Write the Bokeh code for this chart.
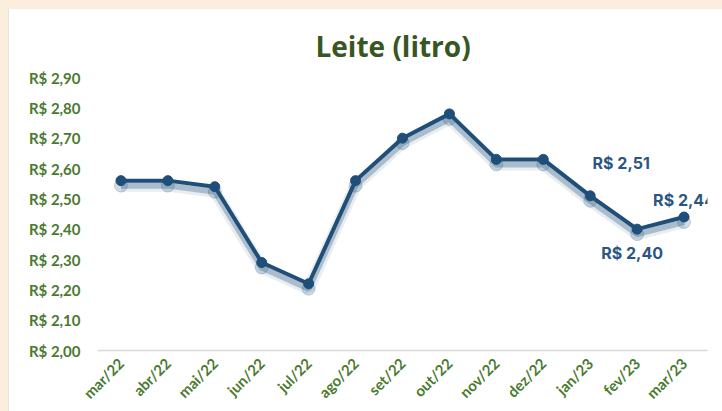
from bokeh.plotting import figure
from bokeh.models import Range1d, Label, FixedTicker, CustomJSTickFormatter
from bokeh.embed import file_html
from bokeh.resources import INLINE

months = ["mar/22", "abr/22", "mai/22", "jun/22", "jul/22", "ago/22", "set/22",
          "out/22", "nov/22", "dez/22", "jan/23", "fev/23", "mar/23"]
prices = [2.56, 2.56, 2.54, 2.29, 2.22, 2.56, 2.70, 2.78, 2.63, 2.63, 2.51, 2.40, 2.44]
y_ticks = [2.00, 2.10, 2.20, 2.30, 2.40, 2.50, 2.60, 2.70, 2.80, 2.90]
labelled_months = ["jan/23", "fev/23", "mar/23"]
labelled_values = [2.51, 2.40, 2.44]

LINE = "#1F4E79"
GREEN = "#4A7A30"
TITLE_GREEN = "#375623"
LABEL_BLUE = "#2B5683"
BEIGE = "#FCEEDC"

p = figure(width=722, height=411, x_range=months, y_range=Range1d(2.0, 2.9),
           output_backend="svg", toolbar_location=None,
           min_border_left=97, min_border_right=15, min_border_top=77, min_border_bottom=61)
p.outline_line_color = None
p.background_fill_color = "white"
p.border_fill_alpha = 0
p.xgrid.grid_line_color = None
p.ygrid.grid_line_color = None

p.title.text = "Leite (litro)"
p.title.align = "left"
p.title.offset = 218
p.title.text_font = "Open Sans"
p.title.text_font_size = "28px"
p.title.text_font_style = "bold"
p.title.text_color = TITLE_GREEN
p.title.standoff = 26

# shadow range: same data drawn a few pixels lower
shift = 5 * 0.9 / 273
p.extra_y_ranges = {"shadow": Range1d(2.0 + shift, 2.9 + shift)}
p.line(months, prices, line_width=12, color=LINE, alpha=0.10, y_range_name="shadow")
p.line(months, prices, line_width=6, color=LINE, alpha=0.30, y_range_name="shadow")
p.scatter(months, prices, size=13, color=LINE, alpha=0.20, y_range_name="shadow")

p.line(months, prices, line_width=4, color=LINE)
p.scatter(months, prices, size=10, color=LINE)

# axes
p.xaxis.axis_line_color = "#D9D9D9"
p.xaxis.axis_line_width = 1.5
p.xaxis.major_tick_line_color = None
p.xaxis.minor_tick_line_color = None
p.xaxis.major_label_orientation = 0.785398
p.xaxis.major_label_text_font = "Lato"
p.xaxis.major_label_text_font_size = "15px"
p.xaxis.major_label_text_font_style = "bold"
p.xaxis.major_label_text_color = GREEN
p.xaxis.major_label_standoff = 4

p.yaxis.ticker = FixedTicker(ticks=y_ticks)
p.yaxis.formatter = CustomJSTickFormatter(code="return 'R$ ' + tick.toFixed(2).replace('.', ',');")
p.yaxis.axis_line_color = None
p.yaxis.major_tick_line_color = None
p.yaxis.minor_tick_line_color = None
p.yaxis.major_label_text_font = "Lato"
p.yaxis.major_label_text_font_size = "15px"
p.yaxis.major_label_text_font_style = "bold"
p.yaxis.major_label_text_color = GREEN
p.yaxis.major_label_standoff = 11

offsets = [(31, 33), (-5, -24), (0, 17)]
for m, v, (dx, dy) in zip(labelled_months, labelled_values, offsets):
    txt = "R$ " + ("%.2f" % v).replace(".", ",")
    p.add_layout(Label(x=months.index(m) + 0.5, y=v, text=txt, x_offset=dx, y_offset=dy,
                       text_align="center", text_baseline="middle", text_font="Inter",
                       text_font_size="16px", text_font_style="bold", text_color=LABEL_BLUE))

bg = ("background-color:#FFFFFF;"
      "background-image:linear-gradient(%s,%s),linear-gradient(%s,%s),linear-gradient(#E6E2DC,#E6E2DC);"
      "background-size:100%% 9px,8px 100%%,1px 100%%;"
      "background-position:0 0,0 0,8px 0;background-repeat:no-repeat;"
      % (BEIGE, BEIGE, BEIGE, BEIGE))
css = ("<style>html,body{margin:0 !important;padding:0 !important;min-height:100%%;}"
       "html,body{%s}</style>" % bg)
html = file_html(p, INLINE)
html = html.replace("</head>", css + "</head>", 1)
open("out.html", "w").write(html)
